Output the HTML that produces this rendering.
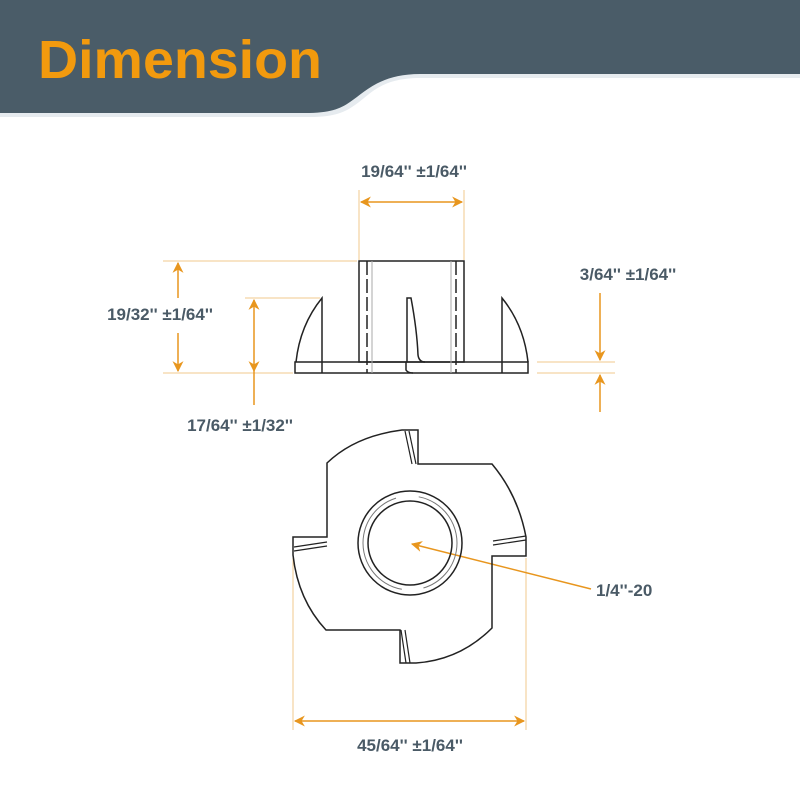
<!DOCTYPE html>
<html><head><style>body{margin:0;background:#fff}svg{display:block}</style></head><body>
<svg width="800" height="800" viewBox="0 0 800 800" xmlns="http://www.w3.org/2000/svg" font-family="Liberation Sans, sans-serif">
<defs>
<marker id="a" viewBox="0 0 10 10" refX="9" refY="5" markerWidth="12" markerHeight="11" orient="auto-start-reverse" markerUnits="userSpaceOnUse"><path d="M0,0 L10,5 L0,10 L3,5 Z" fill="#e8961e"/></marker>
</defs>
<path d="M0,0 H800 V78 H420 C380,78 370,95 355,105 C345,112 335,117 310,117 H0 Z" fill="#e6ebef"/>
<path d="M0,0 H800 V74 H420 C380,74 365,92 350,102 C340,109 330,113 305,113 H0 Z" fill="#4a5c68"/>
<text x="38" y="78" font-size="54" font-weight="bold" fill="#f29a0e" textLength="284" lengthAdjust="spacingAndGlyphs">Dimension</text>

<g stroke="#f0c98e" stroke-width="1" fill="none">
<line x1="359" y1="190" x2="359" y2="260"/><line x1="464" y1="190" x2="464" y2="260"/>
<line x1="163" y1="261" x2="357" y2="261"/><line x1="163" y1="373" x2="293" y2="373"/>
<line x1="245" y1="298" x2="320" y2="298"/>
<line x1="537" y1="362" x2="615" y2="362"/><line x1="537" y1="373" x2="615" y2="373"/>
<line x1="293" y1="558" x2="293" y2="730"/><line x1="526" y1="558" x2="526" y2="730"/>
</g>
<g stroke="#e8961e" stroke-width="1.5" fill="none">
<line x1="361" y1="202" x2="462" y2="202" marker-start="url(#a)" marker-end="url(#a)"/>
<line x1="178" y1="263" x2="178" y2="298" marker-start="url(#a)"/>
<line x1="178" y1="333" x2="178" y2="371" marker-end="url(#a)"/>
<line x1="254" y1="300" x2="254" y2="371" marker-start="url(#a)" marker-end="url(#a)"/>
<line x1="254" y1="371" x2="254" y2="405"/>
<line x1="600" y1="293" x2="600" y2="360" marker-end="url(#a)"/>
<line x1="600" y1="412" x2="600" y2="375" marker-end="url(#a)"/>
<line x1="295" y1="721" x2="524" y2="721" marker-start="url(#a)" marker-end="url(#a)"/>
<line x1="591" y1="589" x2="412" y2="544" marker-end="url(#a)"/>
</g>

<g fill="#4a5a66" font-size="17" font-weight="bold">
<text x="414" y="177" text-anchor="middle">19/64'' ±1/64''</text>
<text x="160" y="320" text-anchor="middle">19/32'' ±1/64''</text>
<text x="240" y="431" text-anchor="middle">17/64'' ±1/32''</text>
<text x="628" y="280" text-anchor="middle">3/64'' ±1/64''</text>
<text x="410" y="751" text-anchor="middle">45/64'' ±1/64''</text>
<text x="596" y="596">1/4''-20</text>
</g>

<g stroke="#222" stroke-width="1.5" fill="none">
<rect x="295" y="362" width="233" height="11"/>
<rect x="359" y="261" width="105" height="101"/>
<path d="M322,373 V298 Q300,325 296,362"/>
<path d="M502,373 V298 Q524,325 528,362"/>
<path d="M407,362 V298 H411 Q417,330 418,355 Q419,362 425,362"/>
<path d="M406,362 V370 Q408,373 413,373"/>
<line x1="367" y1="261" x2="367" y2="373" stroke-dasharray="14,4"/>
<line x1="456" y1="261" x2="456" y2="373" stroke-dasharray="14,4"/>
</g>
<g stroke="#aaa" stroke-width="1">
<line x1="372" y1="261" x2="372" y2="373"/><line x1="451" y1="261" x2="451" y2="373"/>
</g>

<g stroke="#222" stroke-width="1.5" fill="none">
<path d="M402,430 H418 V464 H492 Q518,495 526,537 V556 H492 V628 Q460,660 416,663 H400 V630 H326 Q298,600 293,555 V537 H327 V463 Q355,436 402,430 Z"/>
<circle cx="410" cy="543" r="52"/>
<circle cx="410" cy="543" r="42"/>
<line x1="405" y1="431" x2="412" y2="464" stroke-width="1.2"/>
<line x1="409" y1="431" x2="416" y2="464" stroke-width="1.2"/>
<line x1="493" y1="541" x2="526" y2="536" stroke-width="1.2"/>
<line x1="493" y1="545" x2="526" y2="540" stroke-width="1.2"/>
<line x1="401" y1="630" x2="406" y2="663" stroke-width="1.2"/>
<line x1="405" y1="630" x2="410" y2="663" stroke-width="1.2"/>
<line x1="294" y1="547" x2="327" y2="542" stroke-width="1.2"/>
<line x1="294" y1="551" x2="327" y2="546" stroke-width="1.2"/>
</g>
<circle cx="410" cy="543" r="47" stroke="#777" stroke-width="1" fill="none" stroke-dasharray="125,23" transform="rotate(100 410 543)"/>
</svg>
</body></html>
